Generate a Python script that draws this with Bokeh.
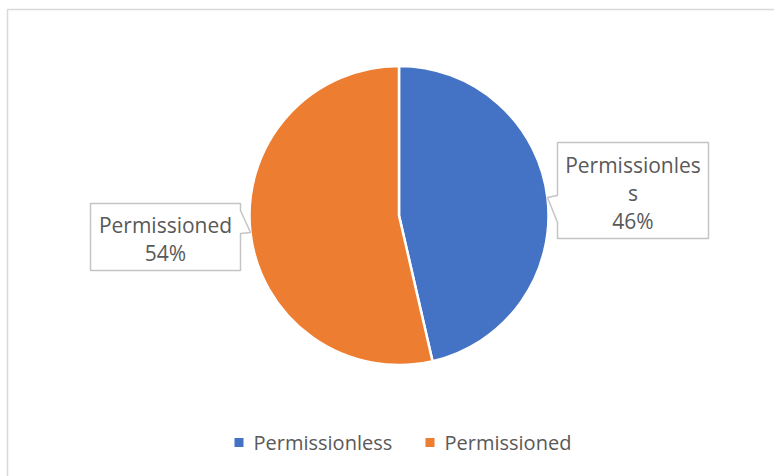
import math
import textwrap
from bokeh.plotting import figure
from bokeh.models import Range1d, ColumnDataSource
from bokeh.core.properties import value
from bokeh.embed import file_html
from bokeh.resources import INLINE

# ---- data ----
categories = ["Permissionless", "Permissioned"]
shares = [46.4, 53.6]  # percent (labels shown rounded)
colors = ["#4472C4", "#ED7D31"]

W, H = 774, 476
FONT = "Open Sans"
TEXT_COLOR = "#595959"

def Y(yi):
    return H - yi

p = figure(width=W, height=H, output_backend="svg", toolbar_location=None,
           x_range=Range1d(0, W), y_range=Range1d(0, H), min_border=0)
p.axis.visible = False
p.grid.visible = False
p.outline_line_color = None
p.background_fill_color = "white"
p.border_fill_color = "white"

# chart frame
p.quad(left=[7], right=[W + 20], top=[Y(9)], bottom=[Y(H + 20)],
       fill_color="white", line_color="#d9d9d9", line_width=1.5)

# pie
cx, cy, r = 398.5, Y(215), 149.5
total = sum(shares)
starts, ends = [], []
acc = 0.0
for s in shares:
    a0 = math.pi / 2 - acc / total * 2 * math.pi
    acc += s
    a1 = math.pi / 2 - acc / total * 2 * math.pi
    starts.append(a0)
    ends.append(a1)
src = ColumnDataSource(dict(cat=categories, val=shares, color=colors,
                            start=starts, end=ends,
                            x=[cx] * len(shares), y=[cy] * len(shares)))
p.wedge(x="x", y="y", radius=r, start_angle="start", end_angle="end",
        direction="clock", fill_color="color", line_color="white",
        line_width=2.5, source=src)

# callout boxes (layout)
box_shapes = [
    [(557, 142), (708, 142), (708, 238), (557, 238), (557, 222), (547, 197), (557, 195)],
    [(90, 203), (240, 203), (240, 210), (250, 232), (240, 233), (240, 270), (90, 270)],
]
label_pos = [(632.5, 192), (165, 238)]
for shape in box_shapes:
    p.patch([pt[0] for pt in shape], [Y(pt[1]) for pt in shape],
            fill_color="white", line_color="#c4c4c4", line_width=1.5)

labels = ["\n".join(textwrap.wrap(c, 13, break_long_words=True) + [f"{v / total * 100:.0f}%"])
          for c, v in zip(categories, shares)]
p.text(x=[lp[0] for lp in label_pos], y=[Y(lp[1]) for lp in label_pos],
       text=labels, text_align="center", text_baseline="middle",
       text_font=value(FONT), text_font_size="21px", text_color=TEXT_COLOR,
       text_line_height=1.0)

# legend (manual)
leg_sq_x = [238.5, 429.5]
leg_tx_x = [253, 444]
leg_y = 442
p.scatter(x=leg_sq_x, y=[Y(leg_y)] * 2, marker="square", size=9,
          fill_color=colors, line_color=None)
p.text(x=leg_tx_x, y=[Y(leg_y)] * 2, text=categories, text_align="left",
       text_baseline="middle", text_font=value(FONT), text_font_size="20px",
       text_color=TEXT_COLOR)

open("out.html", "w").write(file_html(p, INLINE))
